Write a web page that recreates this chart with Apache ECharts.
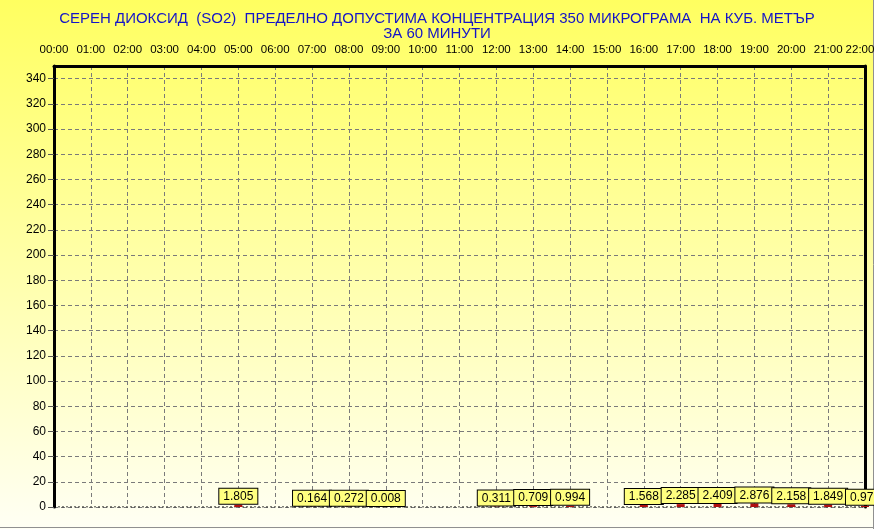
<!DOCTYPE html>
<html>
<head>
<meta charset="utf-8">
<script src="https://cdn.jsdelivr.net/npm/echarts@6/dist/echarts.min.js"></script>
<style>html,body{margin:0;padding:0;background:#fff}#c{width:874px;height:529px}</style>
</head>
<body>
<div id="c"></div>
<script>
var hours = ['00:00','01:00','02:00','03:00','04:00','05:00','06:00','07:00','08:00','09:00','10:00','11:00','12:00','13:00','14:00','15:00','16:00','17:00','18:00','19:00','20:00','21:00','22:00'];
var so2 = [null,null,null,null,null,1.805,null,0.164,0.272,0.008,null,null,0.311,0.709,0.994,null,1.568,2.285,2.409,2.876,2.158,1.849,0.971];
var titleText = 'СЕРЕН ДИОКСИД  (SO2)  ПРЕДЕЛНО ДОПУСТИМА КОНЦЕНТРАЦИЯ 350 МИКРОГРАМА  НА КУБ. МЕТЪР\nЗА 60 МИНУТИ';
var yMin = 0, yMax = 350, yStep = 20;

var chart = echarts.init(document.getElementById('c'), null, {renderer:'canvas'});
var font = '"Liberation Sans", Arial, sans-serif';
chart.setOption({
  animation: false,
  backgroundColor: {type:'linear', x:0, y:0, x2:0, y2:1, colorStops:[{offset:0,color:'#ffff60'},{offset:0.55,color:'#ffffb0'},{offset:1,color:'#fffff4'}]},
  title: {text: titleText, left: 'center', top: 6, textStyle:{color:'#1414c8', fontSize:15, fontWeight:'normal', fontFamily:font, lineHeight:15}},
  grid: {left: 54, right: 9, top: 66, bottom: 22, containLabel:false, outerBoundsMode:'none'},
  xAxis: {
    type:'category', data: hours, position:'top', boundaryGap:false,
    axisLine:{show:true, onZero:false, lineStyle:{color:'#000', width:3}},
    axisTick:{show:false},
    axisLabel:{color:'#000', fontSize:11.5, fontFamily:font, margin:10, interval:0,
      formatter: function(v, i){ return i === hours.length - 1 ? '{last|' + v + '}' : v; },
      rich:{ last:{ color:'#000', fontSize:11.5, fontFamily:font, padding:[0,10,0,0] } }},
    splitLine:{show:true, lineStyle:{color:'#7a7a7a', type:[4,3], width:1}}
  },
  yAxis: [{
    type:'value', min:yMin, max:yMax, interval:yStep,
    axisLine:{show:true, onZero:false, lineStyle:{color:'#000', width:3}},
    axisTick:{show:true, length:6, lineStyle:{color:'#555'}},
    axisLabel:{color:'#000', fontSize:12, fontFamily:font, margin:8, showMaxLabel:false},
    splitLine:{show:true, lineStyle:{color:'#7a7a7a', type:[4,3], width:1}}
  },{
    type:'value', min:yMin, max:yMax, interval:yStep, position:'right',
    axisLine:{show:true, onZero:false, lineStyle:{color:'#000', width:3}},
    axisTick:{show:false}, axisLabel:{show:false}, splitLine:{show:false}
  }],
  series: [{
    type:'bar', data: so2, barWidth: 8,
    itemStyle:{color:'#b01010'},
    label:{show:true, position:'top', distance:1, color:'#000', fontSize:12, fontFamily:font,
      backgroundColor:'#ffff80', borderColor:'#000', borderWidth:1, padding:[2,4,1,4],
      formatter: function(p){ return p.value.toFixed(3); }}
  },{
    type:'line', data: hours.map(function(){return 0;}), symbol:'none', silent:true,
    lineStyle:{color:'#000', width:1, type:[2,2]}, z:1
  }],
  graphic: [
    {type:'line', shape:{x1:0,y1:527.5,x2:874,y2:527.5}, style:{stroke:'#909090', lineWidth:1}, z:-1},
    {type:'line', shape:{x1:873.5,y1:0,x2:873.5,y2:529}, style:{stroke:'#909090', lineWidth:1}, z:-1}
  ]
});
</script>
</body>
</html>
